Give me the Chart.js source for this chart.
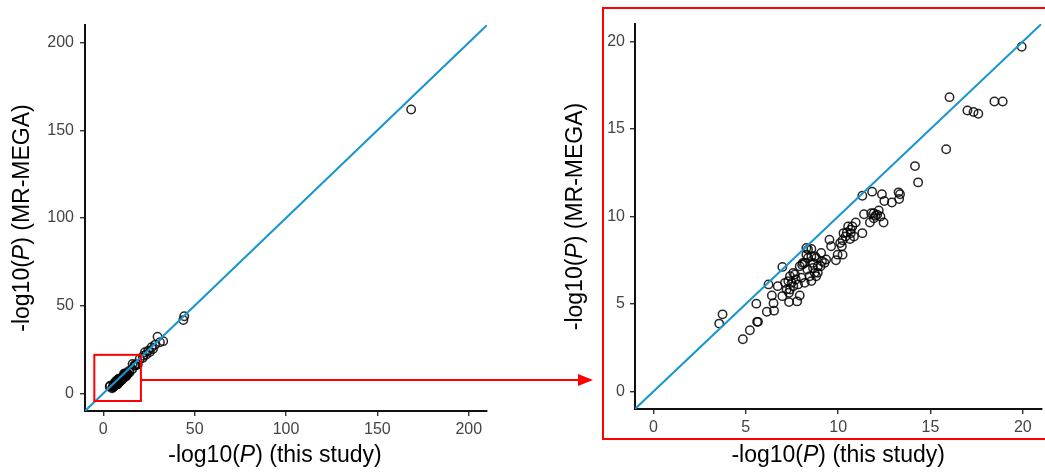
<!DOCTYPE html>
<html lang="en">
<head>
  <meta charset="UTF-8">
  <title>MR-MEGA vs this study</title>
  <script src="https://cdn.jsdelivr.net/npm/chart.js"></script>
  <style>
    body { margin: 0; width: 1045px; height: 476px; overflow: hidden; background: #fff; position: relative; }
    canvas { position: absolute; top: 0; }
  </style>
</head>
<body>
  <canvas id="left" width="1045" height="476" style="left:0"></canvas>
  <canvas id="right" width="492" height="476" style="left:555px"></canvas>

  <script>
    // -log10(P) values, this study (x) and MR-MEGA (y)
    const studyP = [3.56, 3.74, 4.84, 5.22, 5.61, 5.66, 5.57, 6.14, 6.53, 6.50, 6.41, 6.23, 6.73, 6.98, 6.98,
      7.34, 7.78, 7.92, 7.34, 7.39, 7.30, 7.39, 7.57, 7.71, 7.83, 8.01, 8.19, 8.05, 8.10, 8.28,
      8.37, 8.55, 8.37, 8.64, 8.64, 8.73, 8.81, 8.55, 8.90, 8.81, 9.08, 9.05, 9.12, 9.35, 9.53,
      9.62, 9.88, 9.97, 10.24, 10.20, 10.24, 10.29, 10.47, 10.54, 10.68, 10.77, 10.86, 10.64, 10.95, 11.31,
      11.31, 11.40, 11.72, 11.84, 11.79, 11.93, 12.02, 12.20, 12.29, 12.46, 12.37, 12.50, 12.91, 13.27, 13.35,
      13.30, 14.16, 14.33, 15.85, 16.03, 17.00, 17.33, 17.59, 18.46, 18.91, 19.94,
      7.66, 7.92, 8.19, 8.33, 8.46, 8.90, 8.73, 8.55, 8.28, 9.26, 7.48, 7.57, 7.12, 7.21, 10.68,
      10.40, 11.93, 12.11, 10.11];
    const megaP = [3.88, 4.41, 2.99, 3.50, 3.98, 3.98, 5.02, 4.56, 4.62, 5.04, 5.49, 6.12, 6.02, 5.45, 7.12,
      5.11, 5.15, 5.49, 5.64, 5.83, 6.31, 6.59, 6.78, 6.40, 6.12, 6.50, 6.21, 7.25, 7.35, 7.82,
      8.11, 8.14, 7.63, 7.35, 7.06, 6.78, 6.59, 6.31, 7.16, 7.63, 7.92, 7.16, 7.44, 7.54, 8.67,
      8.30, 7.50, 7.82, 7.82, 8.30, 8.64, 9.05, 9.09, 9.43, 9.24, 9.43, 8.86, 8.71, 9.66, 9.05,
      11.19, 10.13, 9.66, 11.42, 10.19, 10.19, 10.04, 10.34, 10.00, 9.66, 11.27, 10.89, 10.80, 11.38, 11.27,
      11.00, 12.88, 11.95, 13.84, 16.82, 16.06, 15.97, 15.87, 16.57, 16.57, 19.70,
      6.69, 7.16, 7.35, 6.97, 6.59, 6.78, 7.73, 7.73, 8.20, 7.35, 6.21, 6.02, 6.21, 5.83, 9.05,
      8.86, 9.90, 10.10, 8.48];
    // stronger signals, only inside the full-range panel
    const studyPHigh = [21.6, 22.0, 22.8, 23.6, 24.6, 25.5, 26.4, 27.2, 28.3, 29.7, 31.0, 32.8, 44.3, 43.8, 168.5];
    const megaPHigh = [20.2, 21.5, 23.5, 22.2, 24.4, 23.6, 26.4, 25.3, 27.7, 32.3, 29.2, 29.8, 44.0, 41.8, 161.8];

    const fullTicks = [0, 50, 100, 150, 200];
    const zoomTicks = [0, 5, 10, 15, 20];
    const fullRange = [-10, 210];
    const zoomRange = [-1, 21];
    // area of the full panel shown in the zoomed panel
    const zoomBox = { xMin: -4.9, xMax: 20.6, yMin: -4.3, yMax: 22 };

    const FONT = "'Liberation Sans', Arial, Helvetica, sans-serif";
    const lineBlue = '#1b95cf';

    function toPoints(xs, ys) {
      return xs.map((x, i) => ({ x: x, y: ys[i] }));
    }

    function drawMixed(ctx, parts, x, y, rotate) {
      ctx.save();
      ctx.translate(x, y);
      if (rotate) ctx.rotate(-Math.PI / 2);
      ctx.fillStyle = '#000';
      ctx.textBaseline = 'alphabetic';
      let total = 0;
      parts.forEach(p => {
        ctx.font = (p.i ? 'italic ' : '') + '23px ' + FONT;
        total += ctx.measureText(p.t).width;
      });
      let cx = -total / 2;
      parts.forEach(p => {
        ctx.font = (p.i ? 'italic ' : '') + '23px ' + FONT;
        ctx.fillText(p.t, cx, 0);
        cx += ctx.measureText(p.t).width;
      });
      ctx.restore();
    }

    const xTitle = [{ t: '-log10(' }, { t: 'P', i: true }, { t: ') (this study)' }];
    const yTitle = [{ t: '-log10(' }, { t: 'P', i: true }, { t: ') (MR-MEGA)' }];

    function axis(range, ticks, fitKey, fitSize, pad) {
      return {
        type: 'linear',
        min: range[0],
        max: range[1],
        afterBuildTicks: s => { s.ticks = ticks.map(v => ({ value: v })); },
        afterFit: s => { s[fitKey] = fitSize; },
        grid: { drawOnChartArea: false, drawTicks: true, tickLength: 5, color: '#333', lineWidth: 1.4 },
        border: { display: true, color: '#111', width: 2 },
        ticks: { color: '#444', font: { family: FONT, size: 16 }, padding: pad }
      };
    }

    function datasets(points, range) {
      return [
        {
          data: [{ x: range[0], y: range[0] }, { x: range[1], y: range[1] }],
          showLine: true, borderColor: lineBlue, borderWidth: 2, pointRadius: 0
        },
        {
          data: points,
          pointRadius: 4.2, borderWidth: 1.5,
          borderColor: 'rgba(0,0,0,0.85)', backgroundColor: 'rgba(0,0,0,0)'
        }
      ];
    }

    const baseOptions = {
      responsive: false,
      animation: false,
      plugins: { legend: { display: false }, tooltip: { enabled: false } }
    };

    // full range panel
    new Chart(document.getElementById('left').getContext('2d'), {
      type: 'scatter',
      data: { datasets: datasets(toPoints(studyP.concat(studyPHigh), megaP.concat(megaPHigh)), fullRange) },
      options: {
        ...baseOptions,
        layout: { padding: { left: 0, top: 25, right: 558, bottom: 0 } },
        scales: {
          x: axis(fullRange, fullTicks, 'height', 65, 4),
          y: axis(fullRange, fullTicks, 'width', 85, 6)
        }
      },
      plugins: [{
        id: 'extras',
        afterDraw(chart) {
          const ctx = chart.ctx, xs = chart.scales.x, ys = chart.scales.y, a = chart.chartArea;
          const x0 = xs.getPixelForValue(zoomBox.xMin), x1 = xs.getPixelForValue(zoomBox.xMax);
          const y0 = ys.getPixelForValue(zoomBox.yMax), y1 = ys.getPixelForValue(zoomBox.yMin);
          ctx.save();
          ctx.strokeStyle = '#ff0000';
          ctx.fillStyle = '#ff0000';
          ctx.lineWidth = 2;
          ctx.strokeRect(x0, y0, x1 - x0, y1 - y0);
          // arrow to the zoomed panel
          const ay = 380;
          ctx.beginPath();
          ctx.moveTo(x1, ay);
          ctx.lineTo(580, ay);
          ctx.stroke();
          ctx.beginPath();
          ctx.moveTo(593, ay);
          ctx.lineTo(578, ay - 6);
          ctx.lineTo(578, ay + 6);
          ctx.closePath();
          ctx.fill();
          ctx.restore();
          drawMixed(ctx, xTitle, 275, 462, false);
          drawMixed(ctx, yTitle, 28.5, (a.top + a.bottom) / 2, true);
        }
      }]
    });

    // zoomed panel
    new Chart(document.getElementById('right').getContext('2d'), {
      type: 'scatter',
      data: { datasets: datasets(toPoints(studyP, megaP), zoomRange) },
      options: {
        ...baseOptions,
        layout: { padding: { left: 0, top: 24, right: 1, bottom: 0 } },
        scales: {
          x: axis(zoomRange, zoomTicks, 'height', 67, 4),
          y: axis(zoomRange, zoomTicks, 'width', 80, 5)
        }
      },
      plugins: [{
        id: 'extras',
        afterDraw(chart) {
          const ctx = chart.ctx, a = chart.chartArea;
          ctx.save();
          ctx.strokeStyle = '#ff0000';
          ctx.lineWidth = 2;
          ctx.strokeRect(48, 8, 520, 431);
          ctx.restore();
          drawMixed(ctx, xTitle, (a.left + a.right) / 2, 462, false);
          drawMixed(ctx, yTitle, 27, (a.top + a.bottom) / 2, true);
        }
      }]
    });
  </script>
</body>
</html>
